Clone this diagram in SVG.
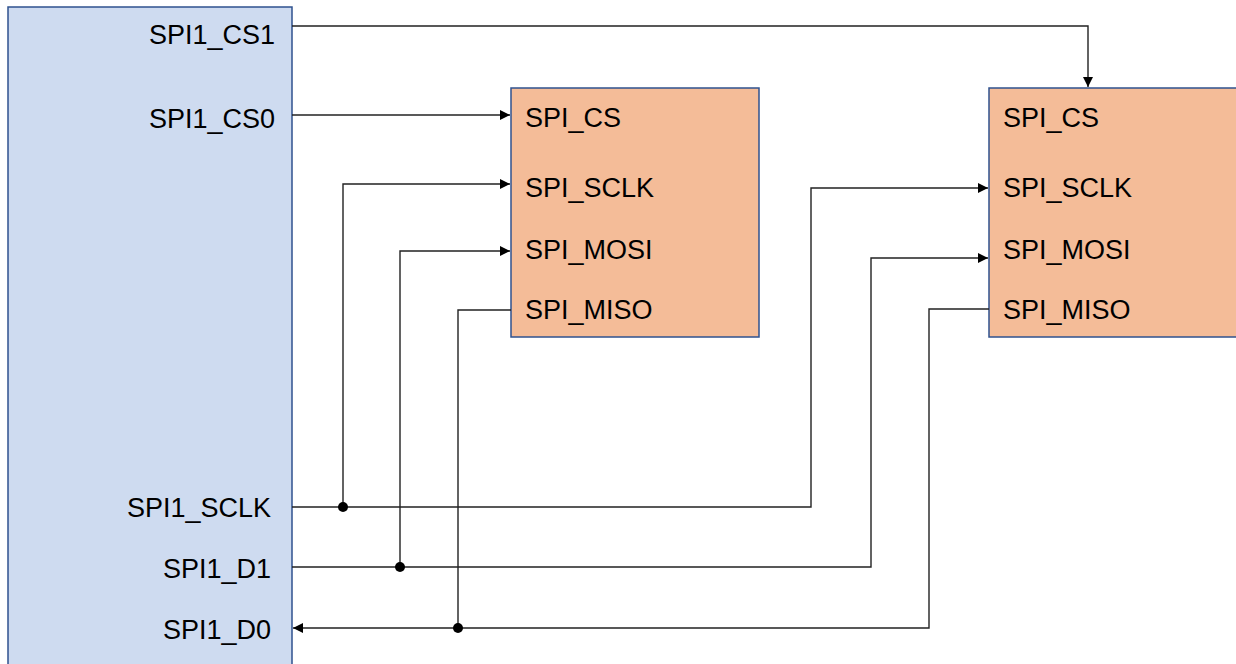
<svg xmlns="http://www.w3.org/2000/svg" width="1236" height="664" viewBox="0 0 1236 664">
<style>
.lbl{font-family:"Liberation Sans",Arial,sans-serif;font-size:27px;fill:#000}
.r{text-anchor:end}
.wire{fill:none;stroke:#222;stroke-width:1.4}
.dot{fill:#000}
</style>
<defs>
<marker id="arr" viewBox="0 0 10 10" refX="10" refY="5" markerWidth="12" markerHeight="10" markerUnits="userSpaceOnUse" orient="auto">
<path d="M0 0 L10 5 L0 10 Z" fill="#000"/>
</marker>
</defs>
<rect width="1236" height="664" fill="#fff"/>
<g id="mcu">
<rect x="8" y="7" width="284" height="670" fill="#cedbf0" stroke="#2f528f" stroke-width="1.5"/>
<text class="lbl r" x="275" y="44">SPI1_CS1</text>
<text class="lbl r" x="275" y="128">SPI1_CS0</text>
<text class="lbl r" x="271" y="517">SPI1_SCLK</text>
<text class="lbl r" x="271" y="578">SPI1_D1</text>
<text class="lbl r" x="271" y="639">SPI1_D0</text>
</g>
<g id="slave1">
<rect x="511" y="88" width="248" height="249" fill="#f4bc98" stroke="#2f528f" stroke-width="1.5"/>
<text class="lbl" x="525" y="127">SPI_CS</text>
<text class="lbl" x="525" y="197">SPI_SCLK</text>
<text class="lbl" x="525" y="259">SPI_MOSI</text>
<text class="lbl" x="525" y="319">SPI_MISO</text>
</g>
<g id="slave2">
<rect x="989" y="88" width="260" height="249" fill="#f4bc98" stroke="#2f528f" stroke-width="1.5"/>
<text class="lbl" x="1003" y="127">SPI_CS</text>
<text class="lbl" x="1003" y="197">SPI_SCLK</text>
<text class="lbl" x="1003" y="259">SPI_MOSI</text>
<text class="lbl" x="1003" y="319">SPI_MISO</text>
</g>
<g id="connectors">
<path class="wire" d="M292 26 H1088 V87" marker-end="url(#arr)"/>
<path class="wire" d="M292 115 H510" marker-end="url(#arr)"/>
<path class="wire" d="M292 507 H811 V188 H988" marker-end="url(#arr)"/>
<path class="wire" d="M343 507 V184 H510" marker-end="url(#arr)"/>
<path class="wire" d="M292 567 H871 V258 H988" marker-end="url(#arr)"/>
<path class="wire" d="M400 567 V251 H510" marker-end="url(#arr)"/>
<path class="wire" d="M989 309 H929 V628 H293" marker-end="url(#arr)"/>
<path class="wire" d="M511 310 H458 V628"/>
<circle class="dot" cx="343" cy="507" r="5"/>
<circle class="dot" cx="400" cy="567" r="5"/>
<circle class="dot" cx="458" cy="628" r="5"/>
</g>
</svg>
